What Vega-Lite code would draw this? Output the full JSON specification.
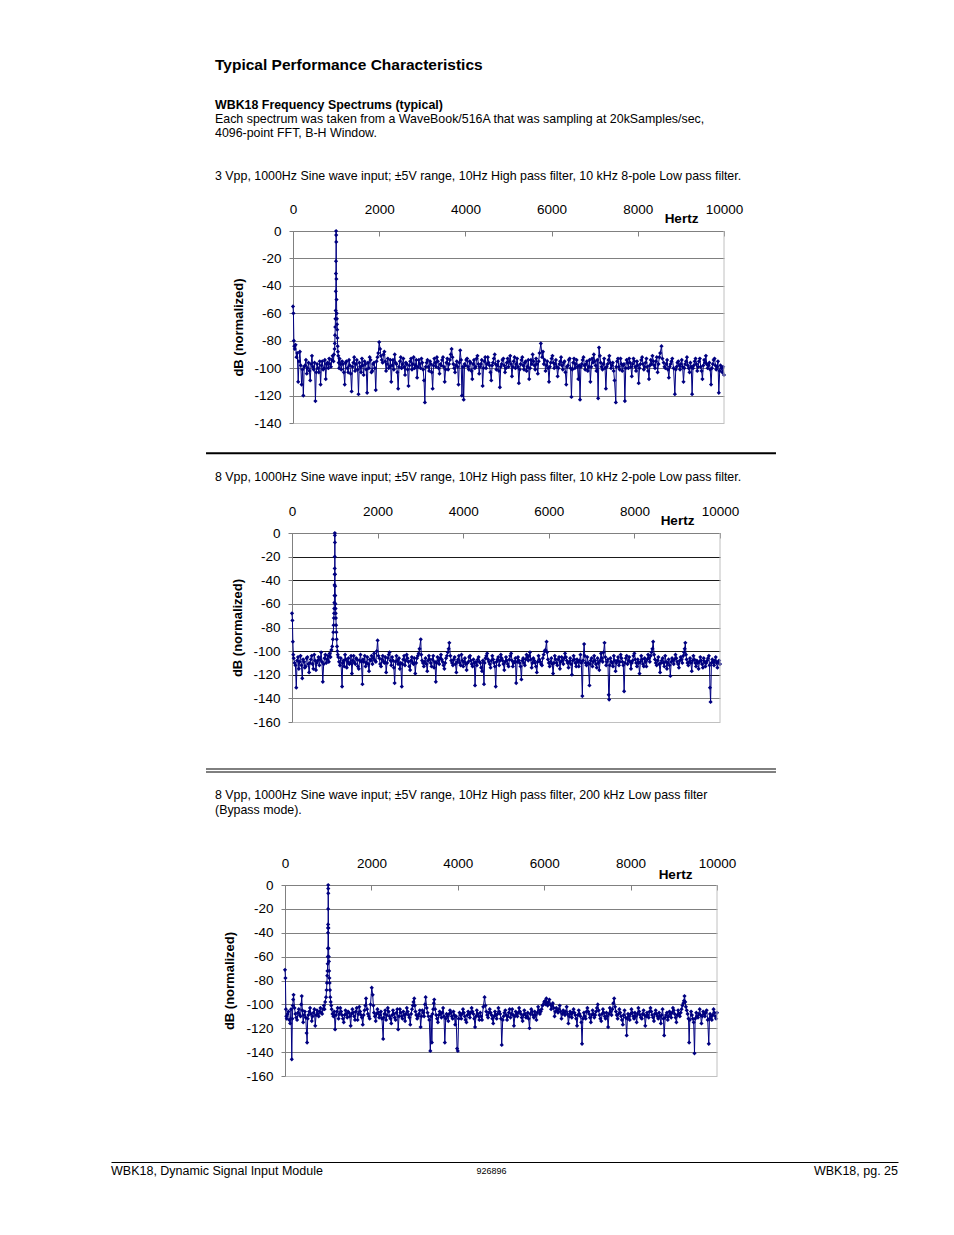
{
  "$schema": "https://vega.github.io/schema/vega-lite/v6.json",
  "background": "white",
  "padding": 0,
  "spacing": 0,
  "bounds": "flush",
  "title": {
    "text": "Typical Performance Characteristics",
    "subtitle": "WBK18 Frequency Spectrums (typical)",
    "anchor": "start",
    "frame": "group",
    "dx": 215,
    "offset": -111.1,
    "font": "Liberation Sans",
    "fontSize": 15.5,
    "fontWeight": "bold",
    "color": "black",
    "subtitleFont": "Liberation Sans",
    "subtitleFontSize": 12.4,
    "subtitleFontWeight": "bold",
    "subtitleColor": "black",
    "subtitlePadding": 24.9
  },
  "config": {
    "view": {"stroke": null},
    "font": "Liberation Sans",
    "axis": {
      "labelFont": "Liberation Sans",
      "titleFont": "Liberation Sans",
      "labelColor": "black",
      "titleColor": "black",
      "labelFontSize": 13.5,
      "domainColor": "#808080",
      "tickColor": "#808080",
      "labelOverlap": false,
      "labelFlush": false
    },
    "title": {
      "font": "Liberation Sans",
      "subtitleFont": "Liberation Sans",
      "color": "black",
      "subtitleColor": "black"
    }
  },
  "datasets": {
    "c1": [
      {"f":0,"d":-55},{"f":10,"d":-60},{"f":20,"d":-80},{"f":30,"d":-84},{"f":40,"d":-86},{"f":60,"d":-83},{"f":80,"d":-92},{"f":100,"d":-89},{"f":120,"d":-110},{"f":140,"d":-95},{"f":160,"d":-88},{"f":180,"d":-98},{"f":200,"d":-112},{"f":220,"d":-101},{"f":240,"d":-120},{"f":260,"d":-99},{"f":280,"d":-98},{"f":300,"d":-94},{"f":320,"d":-104},{"f":340,"d":-100},{"f":360,"d":-96},{"f":380,"d":-102},{"f":400,"d":-109},{"f":420,"d":-97},{"f":440,"d":-91},{"f":460,"d":-99},{"f":480,"d":-101},{"f":500,"d":-96},{"f":520,"d":-124},{"f":540,"d":-103},{"f":560,"d":-97},{"f":580,"d":-100},{"f":600,"d":-103},{"f":620,"d":-95},{"f":640,"d":-112},{"f":660,"d":-98},{"f":680,"d":-95},{"f":700,"d":-101},{"f":720,"d":-100},{"f":740,"d":-94},{"f":760,"d":-108},{"f":780,"d":-97},{"f":800,"d":-96},{"f":820,"d":-100},{"f":840,"d":-93},{"f":860,"d":-97},{"f":880,"d":-99},{"f":900,"d":-94},{"f":920,"d":-91},{"f":940,"d":-95},{"f":950,"d":-90},{"f":965,"d":-86},
      {"f":970,"d":-82},{"f":975,"d":-76},{"f":980,"d":-70},{"f":985,"d":-64},{"f":990,"d":-58},{"f":993,"d":-44},{"f":996,"d":-31},{"f":998,"d":-22},{"f":1000,"d":0},{"f":1002,"d":-3},{"f":1004,"d":-8},{"f":1006,"d":-35},{"f":1010,"d":-50},{"f":1014,"d":-60},{"f":1018,"d":-64},{"f":1022,"d":-68},{"f":1026,"d":-72},{"f":1030,"d":-78},{"f":1036,"d":-84},{"f":1042,"d":-88},{"f":1050,"d":-91},{"f":1060,"d":-96},
      {"f":1070,"d":-100},{"f":1080,"d":-93},{"f":1100,"d":-97},{"f":1120,"d":-101},{"f":1140,"d":-95},{"f":1160,"d":-97},{"f":1180,"d":-103},{"f":1200,"d":-112},{"f":1220,"d":-96},{"f":1240,"d":-95},{"f":1260,"d":-100},{"f":1280,"d":-103},{"f":1300,"d":-94},{"f":1320,"d":-98},{"f":1340,"d":-104},{"f":1360,"d":-117},{"f":1380,"d":-99},{"f":1400,"d":-96},{"f":1420,"d":-92},{"f":1440,"d":-102},{"f":1460,"d":-97},{"f":1480,"d":-94},{"f":1500,"d":-101},{"f":1520,"d":-119},{"f":1540,"d":-96},{"f":1560,"d":-99},{"f":1580,"d":-103},{"f":1600,"d":-93},{"f":1620,"d":-98},{"f":1640,"d":-105},{"f":1660,"d":-95},{"f":1680,"d":-97},{"f":1700,"d":-101},{"f":1720,"d":-118},{"f":1740,"d":-96},{"f":1760,"d":-100},{"f":1780,"d":-92},{"f":1800,"d":-94},{"f":1820,"d":-103},{"f":1840,"d":-102},{"f":1860,"d":-97},{"f":1880,"d":-96},{"f":1900,"d":-100},{"f":1920,"d":-116},{"f":1940,"d":-95},{"f":1960,"d":-92},{"f":1980,"d":-89},
      {"f":2000,"d":-81},{"f":2020,"d":-86},{"f":2040,"d":-91},{"f":2060,"d":-94},{"f":2080,"d":-96},{"f":2100,"d":-90},{"f":2120,"d":-88},{"f":2140,"d":-95},{"f":2160,"d":-102},{"f":2180,"d":-97},{"f":2200,"d":-93},{"f":2220,"d":-100},{"f":2240,"d":-99},{"f":2260,"d":-94},{"f":2280,"d":-110},{"f":2300,"d":-98},{"f":2320,"d":-94},{"f":2340,"d":-101},{"f":2360,"d":-90},{"f":2380,"d":-96},{"f":2400,"d":-97},{"f":2420,"d":-103},{"f":2440,"d":-115},{"f":2460,"d":-99},{"f":2480,"d":-95},{"f":2500,"d":-92},{"f":2520,"d":-100},{"f":2540,"d":-97},{"f":2560,"d":-93},{"f":2580,"d":-99},{"f":2600,"d":-105},{"f":2620,"d":-96},{"f":2640,"d":-97},{"f":2660,"d":-101},{"f":2680,"d":-113},{"f":2700,"d":-98},{"f":2720,"d":-95},{"f":2740,"d":-93},{"f":2760,"d":-101},{"f":2780,"d":-97},{"f":2800,"d":-92},{"f":2820,"d":-100},{"f":2840,"d":-98},{"f":2860,"d":-94},{"f":2880,"d":-107},{"f":2900,"d":-99},{"f":2920,"d":-94},{"f":2940,"d":-97},{"f":2960,"d":-100},{"f":2980,"d":-93},
      {"f":3000,"d":-96},{"f":3020,"d":-101},{"f":3040,"d":-109},{"f":3060,"d":-125},{"f":3080,"d":-99},{"f":3100,"d":-96},{"f":3120,"d":-94},{"f":3140,"d":-99},{"f":3160,"d":-102},{"f":3180,"d":-95},{"f":3200,"d":-97},{"f":3220,"d":-103},{"f":3240,"d":-115},{"f":3260,"d":-98},{"f":3280,"d":-93},{"f":3300,"d":-96},{"f":3320,"d":-99},{"f":3340,"d":-92},{"f":3360,"d":-95},{"f":3380,"d":-100},{"f":3400,"d":-104},{"f":3420,"d":-97},{"f":3440,"d":-98},{"f":3460,"d":-94},{"f":3480,"d":-92},{"f":3500,"d":-99},{"f":3520,"d":-110},{"f":3540,"d":-101},{"f":3560,"d":-96},{"f":3580,"d":-93},{"f":3600,"d":-101},{"f":3620,"d":-97},{"f":3640,"d":-94},{"f":3660,"d":-90},{"f":3680,"d":-86},{"f":3700,"d":-92},{"f":3720,"d":-97},{"f":3740,"d":-100},{"f":3760,"d":-103},{"f":3780,"d":-98},{"f":3800,"d":-95},{"f":3820,"d":-99},{"f":3840,"d":-112},{"f":3860,"d":-96},{"f":3880,"d":-87},{"f":3900,"d":-94},{"f":3920,"d":-120},{"f":3940,"d":-99},{"f":3960,"d":-123},{"f":3980,"d":-97},
      {"f":4000,"d":-98},{"f":4020,"d":-94},{"f":4040,"d":-93},{"f":4060,"d":-99},{"f":4080,"d":-101},{"f":4100,"d":-95},{"f":4120,"d":-96},{"f":4140,"d":-102},{"f":4160,"d":-108},{"f":4180,"d":-97},{"f":4200,"d":-94},{"f":4220,"d":-100},{"f":4240,"d":-99},{"f":4260,"d":-93},{"f":4280,"d":-91},{"f":4300,"d":-97},{"f":4320,"d":-104},{"f":4340,"d":-99},{"f":4360,"d":-97},{"f":4380,"d":-94},{"f":4400,"d":-113},{"f":4420,"d":-100},{"f":4440,"d":-95},{"f":4460,"d":-92},{"f":4480,"d":-100},{"f":4500,"d":-97},{"f":4520,"d":-92},{"f":4540,"d":-96},{"f":4560,"d":-98},{"f":4580,"d":-103},{"f":4600,"d":-109},{"f":4620,"d":-98},{"f":4640,"d":-96},{"f":4660,"d":-93},{"f":4680,"d":-90},{"f":4700,"d":-97},{"f":4720,"d":-101},{"f":4740,"d":-98},{"f":4760,"d":-95},{"f":4780,"d":-102},{"f":4800,"d":-114},{"f":4820,"d":-99},{"f":4840,"d":-97},{"f":4860,"d":-94},{"f":4880,"d":-93},{"f":4900,"d":-98},{"f":4920,"d":-103},{"f":4940,"d":-100},{"f":4960,"d":-96},{"f":4980,"d":-93},
      {"f":5000,"d":-99},{"f":5020,"d":-95},{"f":5040,"d":-91},{"f":5060,"d":-97},{"f":5080,"d":-106},{"f":5100,"d":-99},{"f":5120,"d":-95},{"f":5140,"d":-92},{"f":5160,"d":-100},{"f":5180,"d":-97},{"f":5200,"d":-93},{"f":5220,"d":-99},{"f":5240,"d":-111},{"f":5260,"d":-101},{"f":5280,"d":-97},{"f":5300,"d":-94},{"f":5320,"d":-92},{"f":5340,"d":-98},{"f":5360,"d":-101},{"f":5380,"d":-96},{"f":5400,"d":-95},{"f":5420,"d":-102},{"f":5440,"d":-99},{"f":5460,"d":-94},{"f":5480,"d":-108},{"f":5500,"d":-100},{"f":5520,"d":-94},{"f":5540,"d":-97},{"f":5560,"d":-90},{"f":5580,"d":-95},{"f":5600,"d":-98},{"f":5620,"d":-101},{"f":5640,"d":-93},{"f":5660,"d":-97},{"f":5680,"d":-104},{"f":5700,"d":-95},{"f":5720,"d":-89},{"f":5750,"d":-82},{"f":5780,"d":-92},{"f":5800,"d":-88},{"f":5820,"d":-97},{"f":5840,"d":-94},{"f":5860,"d":-102},{"f":5880,"d":-98},{"f":5900,"d":-95},{"f":5920,"d":-100},{"f":5940,"d":-110},{"f":5960,"d":-99},{"f":5980,"d":-96},
      {"f":6000,"d":-93},{"f":6020,"d":-91},{"f":6040,"d":-96},{"f":6060,"d":-100},{"f":6080,"d":-97},{"f":6100,"d":-94},{"f":6120,"d":-99},{"f":6140,"d":-106},{"f":6160,"d":-100},{"f":6180,"d":-97},{"f":6200,"d":-95},{"f":6220,"d":-92},{"f":6240,"d":-98},{"f":6260,"d":-101},{"f":6280,"d":-96},{"f":6300,"d":-95},{"f":6320,"d":-103},{"f":6340,"d":-112},{"f":6360,"d":-99},{"f":6380,"d":-98},{"f":6400,"d":-94},{"f":6420,"d":-93},{"f":6440,"d":-100},{"f":6460,"d":-121},{"f":6480,"d":-101},{"f":6500,"d":-96},{"f":6520,"d":-93},{"f":6540,"d":-100},{"f":6560,"d":-97},{"f":6580,"d":-94},{"f":6600,"d":-99},{"f":6620,"d":-108},{"f":6640,"d":-98},{"f":6660,"d":-123},{"f":6680,"d":-99},{"f":6700,"d":-97},{"f":6720,"d":-94},{"f":6740,"d":-92},{"f":6760,"d":-98},{"f":6780,"d":-101},{"f":6800,"d":-97},{"f":6820,"d":-95},{"f":6840,"d":-102},{"f":6860,"d":-99},{"f":6880,"d":-94},{"f":6900,"d":-110},{"f":6920,"d":-99},{"f":6940,"d":-93},{"f":6960,"d":-96},{"f":6980,"d":-90},
      {"f":7000,"d":-95},{"f":7020,"d":-98},{"f":7040,"d":-102},{"f":7060,"d":-94},{"f":7080,"d":-122},{"f":7100,"d":-85},{"f":7120,"d":-91},{"f":7140,"d":-96},{"f":7160,"d":-99},{"f":7180,"d":-101},{"f":7200,"d":-97},{"f":7220,"d":-93},{"f":7240,"d":-100},{"f":7260,"d":-115},{"f":7280,"d":-99},{"f":7300,"d":-97},{"f":7320,"d":-94},{"f":7340,"d":-91},{"f":7360,"d":-96},{"f":7380,"d":-100},{"f":7400,"d":-98},{"f":7420,"d":-96},{"f":7440,"d":-102},{"f":7460,"d":-109},{"f":7490,"d":-125},{"f":7500,"d":-99},{"f":7520,"d":-95},{"f":7540,"d":-93},{"f":7560,"d":-99},{"f":7580,"d":-101},{"f":7600,"d":-93},{"f":7620,"d":-97},{"f":7640,"d":-102},{"f":7660,"d":-98},{"f":7680,"d":-97},{"f":7700,"d":-124},{"f":7720,"d":-100},{"f":7740,"d":-94},{"f":7760,"d":-96},{"f":7780,"d":-100},{"f":7800,"d":-93},{"f":7820,"d":-96},{"f":7840,"d":-99},{"f":7860,"d":-106},{"f":7880,"d":-97},{"f":7900,"d":-93},{"f":7920,"d":-95},{"f":7940,"d":-99},{"f":7960,"d":-102},{"f":7980,"d":-95},
      {"f":8000,"d":-98},{"f":8020,"d":-111},{"f":8040,"d":-100},{"f":8060,"d":-97},{"f":8080,"d":-94},{"f":8100,"d":-92},{"f":8120,"d":-97},{"f":8140,"d":-101},{"f":8160,"d":-99},{"f":8180,"d":-96},{"f":8200,"d":-93},{"f":8220,"d":-99},{"f":8240,"d":-102},{"f":8260,"d":-108},{"f":8280,"d":-98},{"f":8300,"d":-94},{"f":8320,"d":-97},{"f":8340,"d":-91},{"f":8360,"d":-95},{"f":8380,"d":-98},{"f":8400,"d":-100},{"f":8420,"d":-95},{"f":8440,"d":-92},{"f":8460,"d":-103},{"f":8480,"d":-97},{"f":8500,"d":-92},{"f":8520,"d":-89},{"f":8550,"d":-84},{"f":8570,"d":-93},{"f":8600,"d":-96},{"f":8620,"d":-99},{"f":8640,"d":-100},{"f":8660,"d":-97},{"f":8680,"d":-94},{"f":8700,"d":-101},{"f":8720,"d":-107},{"f":8740,"d":-99},{"f":8760,"d":-97},{"f":8780,"d":-95},{"f":8800,"d":-93},{"f":8830,"d":-100},{"f":8860,"d":-119},{"f":8880,"d":-101},{"f":8900,"d":-99},{"f":8920,"d":-96},{"f":8940,"d":-95},{"f":8960,"d":-98},{"f":8980,"d":-101},
      {"f":9000,"d":-97},{"f":9020,"d":-94},{"f":9040,"d":-99},{"f":9060,"d":-110},{"f":9080,"d":-100},{"f":9100,"d":-97},{"f":9120,"d":-95},{"f":9140,"d":-92},{"f":9160,"d":-98},{"f":9180,"d":-100},{"f":9200,"d":-103},{"f":9220,"d":-96},{"f":9240,"d":-99},{"f":9260,"d":-119},{"f":9280,"d":-100},{"f":9300,"d":-98},{"f":9320,"d":-95},{"f":9340,"d":-93},{"f":9360,"d":-97},{"f":9380,"d":-102},{"f":9400,"d":-99},{"f":9420,"d":-95},{"f":9440,"d":-93},{"f":9460,"d":-99},{"f":9480,"d":-102},{"f":9500,"d":-108},{"f":9520,"d":-98},{"f":9540,"d":-94},{"f":9560,"d":-96},{"f":9580,"d":-91},{"f":9600,"d":-97},{"f":9620,"d":-100},{"f":9640,"d":-98},{"f":9660,"d":-96},{"f":9680,"d":-101},{"f":9700,"d":-112},{"f":9720,"d":-100},{"f":9740,"d":-97},{"f":9760,"d":-94},{"f":9780,"d":-93},{"f":9800,"d":-98},{"f":9820,"d":-101},{"f":9840,"d":-99},{"f":9860,"d":-95},{"f":9880,"d":-118},{"f":9900,"d":-102},{"f":9920,"d":-98},{"f":9940,"d":-100},{"f":9960,"d":-103},{"f":9980,"d":-99},{"f":10000,"d":-105}
    ],
    "c2": [
      {"f":0,"d":-68},{"f":10,"d":-74},{"f":20,"d":-92},{"f":30,"d":-103},{"f":40,"d":-106},{"f":60,"d":-110},{"f":80,"d":-112},{"f":100,"d":-131},{"f":120,"d":-108},{"f":140,"d":-105},{"f":160,"d":-115},{"f":180,"d":-109},{"f":200,"d":-104},{"f":220,"d":-112},{"f":240,"d":-123},{"f":260,"d":-107},{"f":280,"d":-109},{"f":300,"d":-114},{"f":320,"d":-113},{"f":340,"d":-106},{"f":360,"d":-105},{"f":380,"d":-111},{"f":400,"d":-118},{"f":420,"d":-110},{"f":440,"d":-107},{"f":460,"d":-104},{"f":480,"d":-111},{"f":500,"d":-115},{"f":520,"d":-103},{"f":540,"d":-108},{"f":560,"d":-116},{"f":580,"d":-110},{"f":600,"d":-108},{"f":620,"d":-105},{"f":640,"d":-112},{"f":660,"d":-107},{"f":680,"d":-101},{"f":700,"d":-109},{"f":720,"d":-126},{"f":740,"d":-111},{"f":760,"d":-106},{"f":780,"d":-103},{"f":800,"d":-110},{"f":820,"d":-107},{"f":840,"d":-104},{"f":860,"d":-109},{"f":880,"d":-102},{"f":900,"d":-105},{"f":920,"d":-99},{"f":940,"d":-96},
      {"f":955,"d":-90},{"f":965,"d":-84},{"f":972,"d":-78},{"f":978,"d":-72},{"f":983,"d":-68},{"f":987,"d":-64},{"f":990,"d":-59},{"f":993,"d":-53},{"f":995,"d":-44},{"f":997,"d":-35},{"f":998,"d":-30},{"f":999,"d":-20},{"f":1000,"d":0},{"f":1001,"d":-2},{"f":1003,"d":-8},{"f":1005,"d":-35},{"f":1008,"d":-45},{"f":1011,"d":-53},{"f":1014,"d":-60},{"f":1018,"d":-64},{"f":1022,"d":-68},{"f":1026,"d":-72},{"f":1031,"d":-78},{"f":1037,"d":-84},{"f":1044,"d":-90},{"f":1052,"d":-96},{"f":1060,"d":-100},
      {"f":1070,"d":-103},{"f":1080,"d":-105},{"f":1100,"d":-109},{"f":1120,"d":-112},{"f":1140,"d":-106},{"f":1170,"d":-130},{"f":1185,"d":-110},{"f":1200,"d":-108},{"f":1220,"d":-113},{"f":1240,"d":-103},{"f":1260,"d":-107},{"f":1280,"d":-114},{"f":1300,"d":-109},{"f":1320,"d":-106},{"f":1340,"d":-111},{"f":1360,"d":-110},{"f":1380,"d":-104},{"f":1400,"d":-119},{"f":1420,"d":-108},{"f":1440,"d":-104},{"f":1460,"d":-110},{"f":1480,"d":-111},{"f":1500,"d":-106},{"f":1520,"d":-107},{"f":1540,"d":-113},{"f":1560,"d":-115},{"f":1580,"d":-108},{"f":1600,"d":-103},{"f":1620,"d":-109},{"f":1646,"d":-128},{"f":1660,"d":-107},{"f":1680,"d":-109},{"f":1700,"d":-104},{"f":1720,"d":-113},{"f":1740,"d":-110},{"f":1760,"d":-105},{"f":1780,"d":-111},{"f":1800,"d":-117},{"f":1820,"d":-107},{"f":1840,"d":-108},{"f":1860,"d":-104},{"f":1880,"d":-111},{"f":1900,"d":-106},{"f":1920,"d":-102},{"f":1940,"d":-108},{"f":1960,"d":-109},{"f":1980,"d":-100},
      {"f":2000,"d":-91},{"f":2020,"d":-104},{"f":2040,"d":-106},{"f":2060,"d":-111},{"f":2080,"d":-113},{"f":2100,"d":-107},{"f":2120,"d":-104},{"f":2140,"d":-109},{"f":2160,"d":-110},{"f":2180,"d":-105},{"f":2200,"d":-118},{"f":2220,"d":-110},{"f":2240,"d":-106},{"f":2260,"d":-103},{"f":2280,"d":-101},{"f":2300,"d":-108},{"f":2320,"d":-112},{"f":2340,"d":-105},{"f":2360,"d":-108},{"f":2380,"d":-114},{"f":2398,"d":-127},{"f":2420,"d":-109},{"f":2440,"d":-104},{"f":2460,"d":-108},{"f":2480,"d":-111},{"f":2500,"d":-106},{"f":2520,"d":-115},{"f":2540,"d":-110},{"f":2565,"d":-130},{"f":2580,"d":-111},{"f":2600,"d":-107},{"f":2620,"d":-104},{"f":2640,"d":-112},{"f":2660,"d":-108},{"f":2680,"d":-103},{"f":2700,"d":-106},{"f":2720,"d":-109},{"f":2740,"d":-113},{"f":2760,"d":-116},{"f":2780,"d":-108},{"f":2800,"d":-105},{"f":2820,"d":-110},{"f":2840,"d":-111},{"f":2860,"d":-106},{"f":2880,"d":-119},{"f":2900,"d":-110},{"f":2920,"d":-106},{"f":2940,"d":-104},{"f":2960,"d":-102},{"f":2980,"d":-98},
      {"f":3008,"d":-90},{"f":3020,"d":-103},{"f":3040,"d":-108},{"f":3060,"d":-110},{"f":3080,"d":-113},{"f":3100,"d":-109},{"f":3120,"d":-106},{"f":3140,"d":-111},{"f":3160,"d":-117},{"f":3180,"d":-108},{"f":3200,"d":-104},{"f":3220,"d":-107},{"f":3240,"d":-110},{"f":3260,"d":-113},{"f":3280,"d":-107},{"f":3300,"d":-104},{"f":3320,"d":-114},{"f":3340,"d":-109},{"f":3360,"d":-126},{"f":3380,"d":-110},{"f":3400,"d":-105},{"f":3420,"d":-108},{"f":3440,"d":-111},{"f":3460,"d":-106},{"f":3480,"d":-103},{"f":3500,"d":-107},{"f":3520,"d":-109},{"f":3540,"d":-112},{"f":3560,"d":-115},{"f":3580,"d":-110},{"f":3600,"d":-106},{"f":3620,"d":-104},{"f":3640,"d":-101},{"f":3660,"d":-98},{"f":3676,"d":-93},{"f":3700,"d":-104},{"f":3720,"d":-108},{"f":3740,"d":-110},{"f":3760,"d":-112},{"f":3780,"d":-107},{"f":3800,"d":-105},{"f":3820,"d":-111},{"f":3840,"d":-118},{"f":3860,"d":-109},{"f":3880,"d":-107},{"f":3900,"d":-104},{"f":3920,"d":-110},{"f":3940,"d":-112},{"f":3960,"d":-103},{"f":3980,"d":-108},
      {"f":4000,"d":-113},{"f":4020,"d":-109},{"f":4040,"d":-106},{"f":4060,"d":-111},{"f":4080,"d":-116},{"f":4100,"d":-110},{"f":4120,"d":-109},{"f":4140,"d":-105},{"f":4160,"d":-104},{"f":4180,"d":-108},{"f":4200,"d":-111},{"f":4220,"d":-113},{"f":4240,"d":-107},{"f":4260,"d":-110},{"f":4277,"d":-129},{"f":4300,"d":-109},{"f":4320,"d":-112},{"f":4340,"d":-107},{"f":4360,"d":-105},{"f":4380,"d":-109},{"f":4400,"d":-110},{"f":4420,"d":-114},{"f":4440,"d":-117},{"f":4460,"d":-108},{"f":4486,"d":-128},{"f":4500,"d":-110},{"f":4520,"d":-106},{"f":4540,"d":-104},{"f":4560,"d":-102},{"f":4580,"d":-107},{"f":4600,"d":-109},{"f":4620,"d":-111},{"f":4640,"d":-114},{"f":4660,"d":-108},{"f":4680,"d":-104},{"f":4700,"d":-107},{"f":4720,"d":-110},{"f":4740,"d":-113},{"f":4760,"d":-130},{"f":4780,"d":-109},{"f":4800,"d":-107},{"f":4820,"d":-105},{"f":4840,"d":-112},{"f":4860,"d":-108},{"f":4880,"d":-103},{"f":4900,"d":-106},{"f":4920,"d":-108},{"f":4940,"d":-111},{"f":4960,"d":-116},{"f":4980,"d":-109},
      {"f":5000,"d":-105},{"f":5020,"d":-108},{"f":5040,"d":-111},{"f":5060,"d":-113},{"f":5080,"d":-107},{"f":5100,"d":-104},{"f":5120,"d":-102},{"f":5140,"d":-108},{"f":5160,"d":-113},{"f":5180,"d":-110},{"f":5200,"d":-109},{"f":5220,"d":-106},{"f":5238,"d":-127},{"f":5260,"d":-109},{"f":5280,"d":-105},{"f":5300,"d":-108},{"f":5320,"d":-110},{"f":5340,"d":-113},{"f":5360,"d":-124},{"f":5380,"d":-108},{"f":5400,"d":-106},{"f":5420,"d":-110},{"f":5440,"d":-112},{"f":5460,"d":-107},{"f":5480,"d":-103},{"f":5500,"d":-105},{"f":5520,"d":-108},{"f":5540,"d":-104},{"f":5560,"d":-101},{"f":5580,"d":-107},{"f":5600,"d":-114},{"f":5620,"d":-110},{"f":5640,"d":-106},{"f":5660,"d":-108},{"f":5680,"d":-110},{"f":5700,"d":-113},{"f":5720,"d":-118},{"f":5740,"d":-109},{"f":5760,"d":-104},{"f":5780,"d":-107},{"f":5800,"d":-109},{"f":5820,"d":-111},{"f":5840,"d":-112},{"f":5860,"d":-106},{"f":5880,"d":-103},{"f":5900,"d":-100},{"f":5920,"d":-99},{"f":5948,"d":-92},{"f":5960,"d":-101},{"f":5980,"d":-107},
      {"f":6000,"d":-110},{"f":6020,"d":-113},{"f":6040,"d":-109},{"f":6060,"d":-106},{"f":6080,"d":-111},{"f":6100,"d":-119},{"f":6120,"d":-110},{"f":6140,"d":-104},{"f":6160,"d":-107},{"f":6180,"d":-110},{"f":6200,"d":-112},{"f":6220,"d":-107},{"f":6240,"d":-105},{"f":6260,"d":-115},{"f":6280,"d":-109},{"f":6300,"d":-105},{"f":6320,"d":-108},{"f":6340,"d":-111},{"f":6360,"d":-106},{"f":6380,"d":-102},{"f":6400,"d":-105},{"f":6420,"d":-108},{"f":6440,"d":-110},{"f":6460,"d":-114},{"f":6480,"d":-109},{"f":6500,"d":-106},{"f":6520,"d":-111},{"f":6540,"d":-120},{"f":6560,"d":-108},{"f":6580,"d":-104},{"f":6600,"d":-107},{"f":6620,"d":-110},{"f":6640,"d":-113},{"f":6660,"d":-107},{"f":6680,"d":-109},{"f":6700,"d":-113},{"f":6720,"d":-108},{"f":6740,"d":-103},{"f":6760,"d":-110},{"f":6784,"d":-138},{"f":6800,"d":-108},{"f":6825,"d":-94},{"f":6840,"d":-104},{"f":6860,"d":-110},{"f":6880,"d":-112},{"f":6900,"d":-105},{"f":6920,"d":-110},{"f":6950,"d":-129},{"f":6965,"d":-111},{"f":6980,"d":-108},
      {"f":7000,"d":-106},{"f":7020,"d":-113},{"f":7040,"d":-109},{"f":7060,"d":-104},{"f":7080,"d":-108},{"f":7100,"d":-111},{"f":7120,"d":-114},{"f":7140,"d":-106},{"f":7160,"d":-110},{"f":7180,"d":-116},{"f":7200,"d":-108},{"f":7220,"d":-102},{"f":7240,"d":-106},{"f":7260,"d":-109},{"f":7280,"d":-101},{"f":7302,"d":-93},{"f":7320,"d":-105},{"f":7340,"d":-112},{"f":7360,"d":-109},{"f":7380,"d":-107},{"f":7400,"d":-137},{"f":7410,"d":-141},{"f":7425,"d":-112},{"f":7440,"d":-106},{"f":7460,"d":-109},{"f":7480,"d":-110},{"f":7500,"d":-113},{"f":7520,"d":-104},{"f":7540,"d":-108},{"f":7560,"d":-117},{"f":7580,"d":-110},{"f":7600,"d":-108},{"f":7620,"d":-105},{"f":7640,"d":-112},{"f":7660,"d":-109},{"f":7680,"d":-103},{"f":7700,"d":-106},{"f":7720,"d":-109},{"f":7740,"d":-112},{"f":7760,"d":-134},{"f":7780,"d":-110},{"f":7800,"d":-106},{"f":7820,"d":-104},{"f":7840,"d":-111},{"f":7860,"d":-108},{"f":7880,"d":-105},{"f":7900,"d":-109},{"f":7920,"d":-115},{"f":7940,"d":-110},{"f":7960,"d":-108},{"f":7980,"d":-104},
      {"f":8000,"d":-102},{"f":8020,"d":-107},{"f":8040,"d":-110},{"f":8060,"d":-113},{"f":8080,"d":-107},{"f":8100,"d":-110},{"f":8120,"d":-119},{"f":8140,"d":-109},{"f":8160,"d":-104},{"f":8180,"d":-107},{"f":8200,"d":-111},{"f":8220,"d":-113},{"f":8240,"d":-106},{"f":8260,"d":-109},{"f":8280,"d":-113},{"f":8300,"d":-107},{"f":8320,"d":-103},{"f":8340,"d":-106},{"f":8360,"d":-109},{"f":8380,"d":-104},{"f":8400,"d":-101},{"f":8420,"d":-98},{"f":8438,"d":-92},{"f":8460,"d":-103},{"f":8480,"d":-107},{"f":8500,"d":-110},{"f":8520,"d":-112},{"f":8540,"d":-108},{"f":8560,"d":-105},{"f":8580,"d":-111},{"f":8600,"d":-118},{"f":8620,"d":-110},{"f":8640,"d":-108},{"f":8660,"d":-106},{"f":8680,"d":-110},{"f":8700,"d":-113},{"f":8720,"d":-104},{"f":8740,"d":-109},{"f":8760,"d":-115},{"f":8780,"d":-110},{"f":8800,"d":-107},{"f":8820,"d":-112},{"f":8840,"d":-121},{"f":8860,"d":-109},{"f":8880,"d":-106},{"f":8900,"d":-108},{"f":8920,"d":-111},{"f":8940,"d":-107},{"f":8960,"d":-103},{"f":8980,"d":-106},
      {"f":9000,"d":-109},{"f":9020,"d":-111},{"f":9040,"d":-114},{"f":9060,"d":-108},{"f":9080,"d":-105},{"f":9100,"d":-107},{"f":9120,"d":-110},{"f":9140,"d":-104},{"f":9160,"d":-101},{"f":9175,"d":-98},{"f":9190,"d":-93},{"f":9205,"d":-103},{"f":9220,"d":-107},{"f":9240,"d":-110},{"f":9260,"d":-112},{"f":9280,"d":-109},{"f":9300,"d":-106},{"f":9320,"d":-110},{"f":9340,"d":-117},{"f":9360,"d":-108},{"f":9380,"d":-104},{"f":9400,"d":-107},{"f":9420,"d":-110},{"f":9440,"d":-113},{"f":9460,"d":-108},{"f":9480,"d":-110},{"f":9500,"d":-115},{"f":9520,"d":-109},{"f":9540,"d":-105},{"f":9560,"d":-108},{"f":9580,"d":-111},{"f":9600,"d":-114},{"f":9620,"d":-106},{"f":9640,"d":-109},{"f":9660,"d":-113},{"f":9680,"d":-110},{"f":9700,"d":-108},{"f":9720,"d":-106},{"f":9740,"d":-104},{"f":9755,"d":-112},{"f":9766,"d":-131},{"f":9780,"d":-143},{"f":9800,"d":-110},{"f":9820,"d":-107},{"f":9840,"d":-109},{"f":9860,"d":-112},{"f":9880,"d":-108},{"f":9900,"d":-105},{"f":9920,"d":-110},{"f":9940,"d":-114},{"f":9960,"d":-109},{"f":9980,"d":-108},{"f":10000,"d":-111}
    ],
    "c3": [
      {"f":0,"d":-71},{"f":10,"d":-78},{"f":20,"d":-104},{"f":30,"d":-110},{"f":40,"d":-112},{"f":60,"d":-108},{"f":80,"d":-106},{"f":100,"d":-113},{"f":120,"d":-116},{"f":140,"d":-104},{"f":157,"d":-146},{"f":170,"d":-112},{"f":180,"d":-101},{"f":190,"d":-96},{"f":198,"d":-92},{"f":220,"d":-103},{"f":240,"d":-108},{"f":260,"d":-111},{"f":280,"d":-113},{"f":300,"d":-107},{"f":320,"d":-104},{"f":340,"d":-109},{"f":360,"d":-110},{"f":375,"d":-100},{"f":388,"d":-93},{"f":400,"d":-105},{"f":420,"d":-115},{"f":440,"d":-109},{"f":460,"d":-106},{"f":480,"d":-111},{"f":500,"d":-124},{"f":512,"d":-132},{"f":525,"d":-112},{"f":540,"d":-109},{"f":560,"d":-106},{"f":580,"d":-103},{"f":600,"d":-108},{"f":620,"d":-114},{"f":640,"d":-110},{"f":660,"d":-107},{"f":680,"d":-104},{"f":700,"d":-118},{"f":720,"d":-109},{"f":740,"d":-105},{"f":760,"d":-108},{"f":780,"d":-110},{"f":800,"d":-106},{"f":820,"d":-103},{"f":840,"d":-107},{"f":860,"d":-108},{"f":880,"d":-104},{"f":900,"d":-101},{"f":915,"d":-104},{"f":930,"d":-98},
      {"f":950,"d":-94},{"f":962,"d":-88},{"f":970,"d":-82},{"f":977,"d":-76},{"f":983,"d":-72},{"f":988,"d":-66},{"f":991,"d":-60},{"f":994,"d":-53},{"f":996,"d":-40},{"f":997,"d":-36},{"f":998,"d":-33},{"f":999,"d":-20},{"f":1000,"d":0},{"f":1001,"d":-3},{"f":1002,"d":-7},{"f":1005,"d":-36},{"f":1009,"d":-53},{"f":1013,"d":-60},{"f":1017,"d":-64},{"f":1022,"d":-72},{"f":1027,"d":-78},{"f":1033,"d":-82},{"f":1040,"d":-88},{"f":1048,"d":-94},{"f":1058,"d":-98},
      {"f":1070,"d":-101},{"f":1080,"d":-104},{"f":1100,"d":-108},{"f":1120,"d":-110},{"f":1140,"d":-106},{"f":1160,"d":-121},{"f":1180,"d":-109},{"f":1200,"d":-106},{"f":1220,"d":-103},{"f":1240,"d":-112},{"f":1260,"d":-108},{"f":1280,"d":-103},{"f":1300,"d":-106},{"f":1320,"d":-109},{"f":1340,"d":-112},{"f":1360,"d":-115},{"f":1380,"d":-109},{"f":1400,"d":-105},{"f":1420,"d":-108},{"f":1440,"d":-111},{"f":1460,"d":-106},{"f":1480,"d":-107},{"f":1500,"d":-110},{"f":1520,"d":-118},{"f":1540,"d":-108},{"f":1560,"d":-104},{"f":1580,"d":-107},{"f":1600,"d":-110},{"f":1620,"d":-113},{"f":1640,"d":-106},{"f":1660,"d":-103},{"f":1680,"d":-113},{"f":1700,"d":-108},{"f":1720,"d":-102},{"f":1740,"d":-106},{"f":1760,"d":-109},{"f":1780,"d":-111},{"f":1800,"d":-117},{"f":1820,"d":-109},{"f":1840,"d":-105},{"f":1860,"d":-101},{"f":1876,"d":-95},{"f":1900,"d":-104},{"f":1920,"d":-108},{"f":1940,"d":-110},{"f":1960,"d":-112},{"f":1980,"d":-100},
      {"f":2008,"d":-86},{"f":2030,"d":-92},{"f":2045,"d":-101},{"f":2060,"d":-107},{"f":2080,"d":-110},{"f":2100,"d":-114},{"f":2120,"d":-108},{"f":2140,"d":-104},{"f":2160,"d":-107},{"f":2180,"d":-111},{"f":2200,"d":-109},{"f":2220,"d":-106},{"f":2245,"d":-112},{"f":2273,"d":-129},{"f":2285,"d":-111},{"f":2300,"d":-108},{"f":2320,"d":-105},{"f":2340,"d":-113},{"f":2360,"d":-109},{"f":2380,"d":-103},{"f":2400,"d":-106},{"f":2420,"d":-110},{"f":2440,"d":-112},{"f":2460,"d":-116},{"f":2480,"d":-109},{"f":2500,"d":-105},{"f":2520,"d":-108},{"f":2540,"d":-111},{"f":2560,"d":-113},{"f":2580,"d":-107},{"f":2600,"d":-104},{"f":2620,"d":-121},{"f":2640,"d":-110},{"f":2660,"d":-104},{"f":2680,"d":-107},{"f":2700,"d":-110},{"f":2720,"d":-112},{"f":2740,"d":-106},{"f":2760,"d":-109},{"f":2780,"d":-114},{"f":2800,"d":-108},{"f":2820,"d":-103},{"f":2840,"d":-106},{"f":2860,"d":-109},{"f":2880,"d":-111},{"f":2900,"d":-117},{"f":2920,"d":-108},{"f":2940,"d":-104},{"f":2960,"d":-101},{"f":2975,"d":-98},{"f":2992,"d":-95},
      {"f":3005,"d":-101},{"f":3020,"d":-106},{"f":3040,"d":-109},{"f":3060,"d":-112},{"f":3080,"d":-110},{"f":3100,"d":-108},{"f":3120,"d":-105},{"f":3140,"d":-119},{"f":3160,"d":-110},{"f":3180,"d":-105},{"f":3200,"d":-107},{"f":3220,"d":-110},{"f":3240,"d":-100},{"f":3256,"d":-94},{"f":3280,"d":-103},{"f":3300,"d":-107},{"f":3320,"d":-110},{"f":3340,"d":-113},{"f":3364,"d":-139},{"f":3380,"d":-110},{"f":3400,"d":-132},{"f":3415,"d":-108},{"f":3430,"d":-104},{"f":3445,"d":-99},{"f":3455,"d":-96},{"f":3475,"d":-104},{"f":3500,"d":-109},{"f":3520,"d":-112},{"f":3540,"d":-115},{"f":3560,"d":-109},{"f":3580,"d":-106},{"f":3600,"d":-108},{"f":3620,"d":-111},{"f":3640,"d":-107},{"f":3660,"d":-103},{"f":3680,"d":-110},{"f":3700,"d":-132},{"f":3720,"d":-112},{"f":3740,"d":-108},{"f":3760,"d":-110},{"f":3780,"d":-114},{"f":3800,"d":-108},{"f":3820,"d":-105},{"f":3840,"d":-107},{"f":3860,"d":-110},{"f":3880,"d":-112},{"f":3900,"d":-106},{"f":3920,"d":-109},{"f":3940,"d":-117},{"f":3960,"d":-110},{"f":3983,"d":-137},
      {"f":4000,"d":-139},{"f":4020,"d":-112},{"f":4040,"d":-107},{"f":4060,"d":-109},{"f":4080,"d":-112},{"f":4100,"d":-108},{"f":4120,"d":-104},{"f":4140,"d":-107},{"f":4160,"d":-110},{"f":4180,"d":-113},{"f":4200,"d":-115},{"f":4220,"d":-109},{"f":4240,"d":-106},{"f":4260,"d":-108},{"f":4280,"d":-111},{"f":4300,"d":-107},{"f":4320,"d":-103},{"f":4340,"d":-106},{"f":4360,"d":-108},{"f":4380,"d":-112},{"f":4400,"d":-119},{"f":4420,"d":-110},{"f":4440,"d":-105},{"f":4460,"d":-108},{"f":4480,"d":-110},{"f":4500,"d":-113},{"f":4520,"d":-107},{"f":4540,"d":-110},{"f":4560,"d":-113},{"f":4590,"d":-102},{"f":4620,"d":-94},{"f":4640,"d":-101},{"f":4660,"d":-106},{"f":4680,"d":-109},{"f":4700,"d":-111},{"f":4720,"d":-107},{"f":4740,"d":-104},{"f":4760,"d":-107},{"f":4780,"d":-109},{"f":4800,"d":-112},{"f":4820,"d":-116},{"f":4840,"d":-110},{"f":4860,"d":-106},{"f":4880,"d":-109},{"f":4900,"d":-112},{"f":4920,"d":-108},{"f":4940,"d":-103},{"f":4960,"d":-106},{"f":4980,"d":-108},
      {"f":5000,"d":-112},{"f":5017,"d":-134},{"f":5040,"d":-113},{"f":5060,"d":-110},{"f":5080,"d":-107},{"f":5100,"d":-105},{"f":5120,"d":-109},{"f":5140,"d":-113},{"f":5160,"d":-110},{"f":5180,"d":-107},{"f":5200,"d":-104},{"f":5220,"d":-111},{"f":5240,"d":-108},{"f":5260,"d":-104},{"f":5280,"d":-109},{"f":5300,"d":-118},{"f":5320,"d":-110},{"f":5340,"d":-106},{"f":5360,"d":-108},{"f":5380,"d":-110},{"f":5400,"d":-107},{"f":5420,"d":-103},{"f":5440,"d":-106},{"f":5460,"d":-108},{"f":5480,"d":-111},{"f":5500,"d":-114},{"f":5520,"d":-109},{"f":5540,"d":-105},{"f":5560,"d":-108},{"f":5580,"d":-111},{"f":5600,"d":-110},{"f":5620,"d":-107},{"f":5640,"d":-112},{"f":5660,"d":-120},{"f":5680,"d":-108},{"f":5700,"d":-104},{"f":5720,"d":-106},{"f":5740,"d":-109},{"f":5760,"d":-111},{"f":5780,"d":-106},{"f":5800,"d":-109},{"f":5820,"d":-113},{"f":5840,"d":-107},{"f":5860,"d":-102},{"f":5880,"d":-105},{"f":5900,"d":-108},{"f":5920,"d":-106},{"f":5940,"d":-104},{"f":5960,"d":-101},{"f":5980,"d":-100},
      {"f":6000,"d":-98},{"f":6020,"d":-97},{"f":6035,"d":-100},{"f":6050,"d":-95},{"f":6065,"d":-99},{"f":6080,"d":-101},{"f":6100,"d":-98},{"f":6120,"d":-96},{"f":6140,"d":-100},{"f":6160,"d":-104},{"f":6180,"d":-101},{"f":6200,"d":-99},{"f":6220,"d":-103},{"f":6240,"d":-110},{"f":6260,"d":-106},{"f":6280,"d":-103},{"f":6300,"d":-105},{"f":6320,"d":-107},{"f":6340,"d":-104},{"f":6360,"d":-101},{"f":6380,"d":-106},{"f":6400,"d":-112},{"f":6420,"d":-108},{"f":6440,"d":-105},{"f":6460,"d":-107},{"f":6480,"d":-109},{"f":6500,"d":-106},{"f":6520,"d":-102},{"f":6540,"d":-108},{"f":6560,"d":-116},{"f":6580,"d":-110},{"f":6600,"d":-106},{"f":6620,"d":-108},{"f":6640,"d":-111},{"f":6660,"d":-107},{"f":6680,"d":-104},{"f":6700,"d":-107},{"f":6720,"d":-109},{"f":6740,"d":-112},{"f":6760,"d":-118},{"f":6780,"d":-109},{"f":6800,"d":-105},{"f":6820,"d":-108},{"f":6840,"d":-110},{"f":6858,"d":-115},{"f":6876,"d":-133},{"f":6895,"d":-112},{"f":6920,"d":-107},{"f":6940,"d":-110},{"f":6960,"d":-112},{"f":6980,"d":-106},
      {"f":7000,"d":-103},{"f":7020,"d":-106},{"f":7040,"d":-108},{"f":7060,"d":-111},{"f":7080,"d":-115},{"f":7100,"d":-109},{"f":7120,"d":-105},{"f":7140,"d":-108},{"f":7160,"d":-111},{"f":7180,"d":-109},{"f":7200,"d":-106},{"f":7220,"d":-103},{"f":7240,"d":-100},{"f":7260,"d":-105},{"f":7280,"d":-109},{"f":7300,"d":-112},{"f":7320,"d":-114},{"f":7340,"d":-108},{"f":7360,"d":-104},{"f":7380,"d":-107},{"f":7400,"d":-110},{"f":7420,"d":-112},{"f":7440,"d":-107},{"f":7460,"d":-110},{"f":7480,"d":-119},{"f":7500,"d":-108},{"f":7520,"d":-103},{"f":7540,"d":-106},{"f":7560,"d":-109},{"f":7580,"d":-104},{"f":7600,"d":-99},{"f":7620,"d":-95},{"f":7640,"d":-102},{"f":7660,"d":-106},{"f":7680,"d":-109},{"f":7700,"d":-112},{"f":7720,"d":-108},{"f":7740,"d":-104},{"f":7760,"d":-107},{"f":7780,"d":-110},{"f":7800,"d":-113},{"f":7820,"d":-117},{"f":7840,"d":-109},{"f":7860,"d":-105},{"f":7885,"d":-111},{"f":7909,"d":-126},{"f":7925,"d":-112},{"f":7940,"d":-108},{"f":7960,"d":-110},{"f":7980,"d":-113},
      {"f":8000,"d":-108},{"f":8020,"d":-104},{"f":8040,"d":-107},{"f":8060,"d":-110},{"f":8080,"d":-112},{"f":8100,"d":-107},{"f":8120,"d":-110},{"f":8140,"d":-115},{"f":8160,"d":-108},{"f":8180,"d":-103},{"f":8200,"d":-106},{"f":8220,"d":-109},{"f":8240,"d":-111},{"f":8260,"d":-112},{"f":8280,"d":-108},{"f":8300,"d":-105},{"f":8320,"d":-109},{"f":8340,"d":-118},{"f":8360,"d":-110},{"f":8380,"d":-107},{"f":8400,"d":-109},{"f":8420,"d":-111},{"f":8440,"d":-106},{"f":8460,"d":-103},{"f":8480,"d":-106},{"f":8500,"d":-109},{"f":8520,"d":-111},{"f":8540,"d":-114},{"f":8560,"d":-108},{"f":8580,"d":-105},{"f":8600,"d":-108},{"f":8620,"d":-110},{"f":8640,"d":-112},{"f":8660,"d":-107},{"f":8680,"d":-110},{"f":8700,"d":-116},{"f":8720,"d":-109},{"f":8740,"d":-104},{"f":8760,"d":-112},{"f":8777,"d":-126},{"f":8800,"d":-111},{"f":8820,"d":-109},{"f":8840,"d":-107},{"f":8860,"d":-113},{"f":8880,"d":-110},{"f":8900,"d":-106},{"f":8920,"d":-108},{"f":8940,"d":-111},{"f":8960,"d":-107},{"f":8980,"d":-103},
      {"f":9000,"d":-105},{"f":9020,"d":-108},{"f":9040,"d":-111},{"f":9060,"d":-115},{"f":9080,"d":-109},{"f":9100,"d":-105},{"f":9120,"d":-108},{"f":9140,"d":-110},{"f":9160,"d":-107},{"f":9180,"d":-104},{"f":9200,"d":-101},{"f":9220,"d":-99},{"f":9235,"d":-97},{"f":9248,"d":-93},{"f":9265,"d":-98},{"f":9280,"d":-102},{"f":9300,"d":-105},{"f":9320,"d":-108},{"f":9340,"d":-112},{"f":9355,"d":-132},{"f":9370,"d":-113},{"f":9400,"d":-106},{"f":9420,"d":-109},{"f":9440,"d":-112},{"f":9460,"d":-115},{"f":9479,"d":-141},{"f":9495,"d":-112},{"f":9520,"d":-107},{"f":9540,"d":-110},{"f":9560,"d":-111},{"f":9580,"d":-108},{"f":9600,"d":-104},{"f":9620,"d":-109},{"f":9640,"d":-116},{"f":9660,"d":-110},{"f":9680,"d":-106},{"f":9700,"d":-108},{"f":9720,"d":-110},{"f":9740,"d":-107},{"f":9760,"d":-105},{"f":9785,"d":-113},{"f":9810,"d":-133},{"f":9825,"d":-112},{"f":9840,"d":-108},{"f":9860,"d":-110},{"f":9880,"d":-113},{"f":9900,"d":-109},{"f":9920,"d":-104},{"f":9940,"d":-107},{"f":9960,"d":-110},{"f":9980,"d":-112},{"f":10000,"d":-107}
    ]
  },
  "vconcat": [
    {
      "width": 954,
      "height": 453,
      "title": {
        "text": [
          "Each spectrum was taken from a WaveBook/516A that was sampling at 20kSamples/sec,",
          "4096-point FFT, B-H Window."
        ],
        "subtitle": "3 Vpp, 1000Hz Sine wave input; ±5V range, 10Hz High pass filter, 10 kHz 8-pole Low pass filter.",
        "anchor": "start",
        "frame": "group",
        "dx": 215,
        "offset": -182.1,
        "fontSize": 12.4,
        "fontWeight": "normal",
        "lineHeight": 14.2,
        "subtitleFontSize": 12.4,
        "subtitlePadding": 30.4
      },
      "layer": [
        {
          "data": {"name": "c1"},
          "mark": {"type": "line", "color": "#000080", "strokeWidth": 1, "point": {"shape": "diamond", "size": 18, "filled": true, "color": "#000080"}},
          "encoding": {
            "x": {
              "field": "f", "type": "quantitative",
              "scale": {"domain": [0, 10000], "range": [293, 724], "nice": false, "zero": false},
              "axis": {"orient": "top", "offset": -231, "values": [0, 2000, 4000, 6000, 8000, 10000], "tickCount": 20, "labelExpr": "datum.value + ''", "tickSize": -5, "labelPadding": 20, "grid": false, "title": "Hertz", "titleX": 681, "titleY": -13, "titleAlign": "center", "titleBaseline": "middle", "titleFontSize": 13.5, "titleFontWeight": "bold"}
            },
            "y": {
              "field": "d", "type": "quantitative",
              "scale": {"domain": [-140, 0], "range": [423, 231], "nice": false, "zero": false},
              "axis": {"orient": "left", "offset": -293, "values": [0, -20, -40, -60, -80, -100, -120, -140], "tickCount": 20, "labelExpr": "datum.value + ''", "tickSize": 4, "labelPadding": 8, "grid": true, "gridColor": {"condition": {"test": "datum.value == -140", "value": "#c0c0c0"}, "value": "#808080"}, "title": "dB (normalized)", "titleX": -55, "titleBaseline": "middle", "titleFontSize": 13, "titleFontWeight": "bold"}
            }
          }
        },
        {
          "data": {"values": [{}]},
          "mark": {"type": "rule", "color": "#c0c0c0", "strokeWidth": 1},
          "encoding": {
            "x": {"datum": 10000, "type": "quantitative", "scale": {"domain": [0, 10000], "range": [293, 724], "nice": false, "zero": false}},
            "y": {"datum": 0, "type": "quantitative", "scale": {"domain": [-140, 0], "range": [423, 231], "nice": false, "zero": false}},
            "y2": {"datum": -140}
          }
        },
        {
          "data": {"values": [{}]},
          "mark": {"type": "rule", "color": "black", "strokeWidth": 2},
          "encoding": {
            "x": {"datum": -2018, "type": "quantitative", "scale": {"domain": [0, 10000], "range": [293, 724], "nice": false, "zero": false}},
            "x2": {"datum": 11206},
            "y": {"datum": -162, "type": "quantitative", "scale": {"domain": [-140, 0], "range": [423, 231], "nice": false, "zero": false}}
          }
        }
      ]
    },
    {
      "width": 954,
      "height": 317,
      "title": {
        "text": "8 Vpp, 1000Hz Sine wave input; ±5V range, 10Hz High pass filter, 10 kHz 2-pole Low pass filter.",
        "anchor": "start",
        "frame": "group",
        "dx": 215,
        "offset": -30.1,
        "fontSize": 12.4,
        "fontWeight": "normal"
      },
      "layer": [
        {
          "data": {"name": "c2"},
          "mark": {"type": "line", "color": "#000080", "strokeWidth": 1, "point": {"shape": "diamond", "size": 18, "filled": true, "color": "#000080"}},
          "encoding": {
            "x": {
              "field": "f", "type": "quantitative",
              "scale": {"domain": [0, 10000], "range": [292, 720], "nice": false, "zero": false},
              "axis": {"orient": "top", "offset": -80, "values": [0, 2000, 4000, 6000, 8000, 10000], "tickCount": 20, "labelExpr": "datum.value + ''", "tickSize": -5, "labelPadding": 20, "grid": false, "title": "Hertz", "titleX": 677, "titleY": -13, "titleAlign": "center", "titleBaseline": "middle", "titleFontSize": 13.5, "titleFontWeight": "bold"}
            },
            "y": {
              "field": "d", "type": "quantitative",
              "scale": {"domain": [-160, 0], "range": [269, 80], "nice": false, "zero": false},
              "axis": {"orient": "left", "offset": -292, "values": [0, -20, -40, -60, -80, -100, -120, -140, -160], "tickCount": 20, "labelExpr": "datum.value + ''", "tickSize": 4, "labelPadding": 8, "grid": true, "gridColor": {"condition": [{"test": "datum.value == -160", "value": "#c0c0c0"}, {"test": "datum.value == -60 || datum.value == -80 || datum.value == -140", "value": "#808080"}], "value": "#1a1a1a"}, "title": "dB (normalized)", "titleX": -55, "titleBaseline": "middle", "titleFontSize": 13, "titleFontWeight": "bold"}
            }
          }
        },
        {
          "data": {"values": [{}]},
          "mark": {"type": "rule", "color": "#c0c0c0", "strokeWidth": 1},
          "encoding": {
            "x": {"datum": 10000, "type": "quantitative", "scale": {"domain": [0, 10000], "range": [292, 720], "nice": false, "zero": false}},
            "y": {"datum": 0, "type": "quantitative", "scale": {"domain": [-160, 0], "range": [269, 80], "nice": false, "zero": false}},
            "y2": {"datum": -160}
          }
        },
        {
          "data": {"values": [{}]},
          "mark": {"type": "rule", "color": "black", "strokeWidth": 4},
          "encoding": {
            "x": {"datum": -2009, "type": "quantitative", "scale": {"domain": [0, 10000], "range": [292, 720], "nice": false, "zero": false}},
            "x2": {"datum": 11308},
            "y": {"datum": -201, "type": "quantitative", "scale": {"domain": [-160, 0], "range": [269, 80], "nice": false, "zero": false}}
          }
        },
        {
          "data": {"values": [{}]},
          "mark": {"type": "rule", "color": "white", "strokeWidth": 2},
          "encoding": {
            "x": {"datum": -2009, "type": "quantitative", "scale": {"domain": [0, 10000], "range": [292, 720], "nice": false, "zero": false}},
            "x2": {"datum": 11308},
            "y": {"datum": -201, "type": "quantitative", "scale": {"domain": [-160, 0], "range": [269, 80], "nice": false, "zero": false}}
          }
        }
      ]
    },
    {
      "width": 954,
      "height": 390,
      "title": {
        "text": [
          "8 Vpp, 1000Hz Sine wave input; ±5V range, 10Hz High pass filter, 200 kHz Low pass filter",
          "(Bypass mode)."
        ],
        "anchor": "start",
        "frame": "group",
        "dx": 215,
        "offset": -46.1,
        "fontSize": 12.4,
        "lineHeight": 15,
        "fontWeight": "normal"
      },
      "layer": [
        {
          "data": {"name": "c3"},
          "mark": {"type": "line", "color": "#000080", "strokeWidth": 1, "point": {"shape": "diamond", "size": 18, "filled": true, "color": "#000080"}},
          "encoding": {
            "x": {
              "field": "f", "type": "quantitative",
              "scale": {"domain": [0, 10000], "range": [285, 717], "nice": false, "zero": false},
              "axis": {"orient": "top", "offset": -115, "values": [0, 2000, 4000, 6000, 8000, 10000], "tickCount": 20, "labelExpr": "datum.value + ''", "tickSize": -5, "labelPadding": 20, "grid": false, "title": "Hertz", "titleX": 675, "titleY": -11, "titleAlign": "center", "titleBaseline": "middle", "titleFontSize": 13.5, "titleFontWeight": "bold"}
            },
            "y": {
              "field": "d", "type": "quantitative",
              "scale": {"domain": [-160, 0], "range": [306, 115], "nice": false, "zero": false},
              "axis": {"orient": "left", "offset": -285, "values": [0, -20, -40, -60, -80, -100, -120, -140, -160], "tickCount": 20, "labelExpr": "datum.value + ''", "tickSize": 4, "labelPadding": 8, "grid": true, "gridColor": {"condition": {"test": "datum.value == -160", "value": "#c0c0c0"}, "value": "#808080"}, "title": "dB (normalized)", "titleX": -56, "titleBaseline": "middle", "titleFontSize": 13, "titleFontWeight": "bold"}
            }
          }
        },
        {
          "data": {"values": [{}]},
          "mark": {"type": "rule", "color": "#c0c0c0", "strokeWidth": 1},
          "encoding": {
            "x": {"datum": 10000, "type": "quantitative", "scale": {"domain": [0, 10000], "range": [285, 717], "nice": false, "zero": false}},
            "y": {"datum": 0, "type": "quantitative", "scale": {"domain": [-160, 0], "range": [306, 115], "nice": false, "zero": false}},
            "y2": {"datum": -160}
          }
        }
      ]
    },
    {
      "width": 954,
      "height": 22,
      "layer": [
        {
          "data": {"values": [{"t": "WBK18, Dynamic Signal Input Module"}]},
          "mark": {"type": "text", "align": "left", "fontSize": 12.5, "font": "Liberation Sans", "color": "black"},
          "encoding": {
            "x": {"field": "t", "type": "nominal", "scale": {"type": "point", "domain": ["WBK18, Dynamic Signal Input Module", "926896", "WBK18, pg. 25"], "range": [111, 898], "padding": 0},
              "axis": {"orient": "top", "offset": -2, "labels": false, "ticks": false, "grid": false, "domainColor": "black", "domainWidth": 1, "title": null}},
            "text": {"field": "t"}
          }
        },
        {
          "data": {"values": [{"t": "926896"}]},
          "mark": {"type": "text", "align": "center", "dx": -13, "fontSize": 9, "font": "Liberation Sans", "color": "black"},
          "encoding": {
            "x": {"field": "t", "type": "nominal", "scale": {"type": "point", "domain": ["WBK18, Dynamic Signal Input Module", "926896", "WBK18, pg. 25"], "range": [111, 898], "padding": 0}},
            "text": {"field": "t"}
          }
        },
        {
          "data": {"values": [{"t": "WBK18, pg. 25"}]},
          "mark": {"type": "text", "align": "right", "fontSize": 12.5, "font": "Liberation Sans", "color": "black"},
          "encoding": {
            "x": {"field": "t", "type": "nominal", "scale": {"type": "point", "domain": ["WBK18, Dynamic Signal Input Module", "926896", "WBK18, pg. 25"], "range": [111, 898], "padding": 0}},
            "text": {"field": "t"}
          }
        }
      ]
    }
  ]
}
